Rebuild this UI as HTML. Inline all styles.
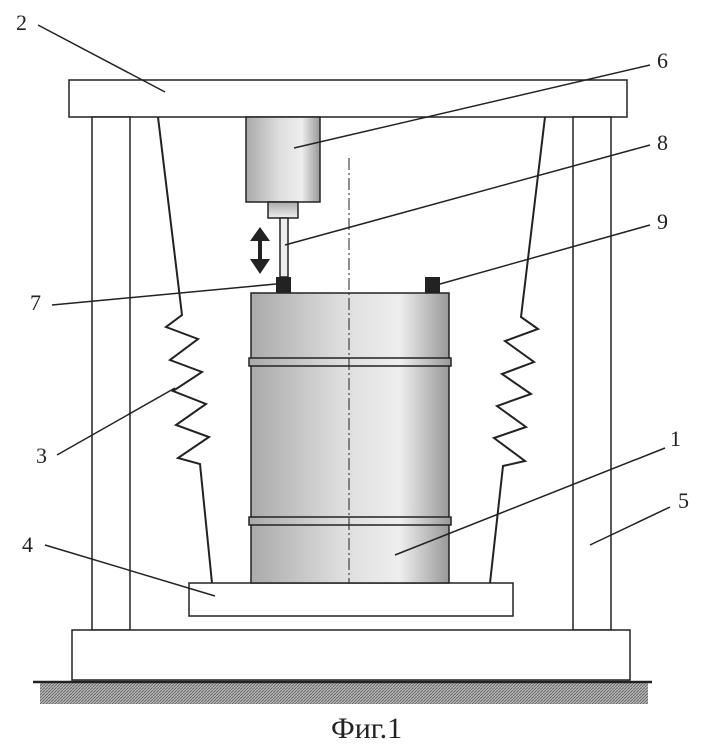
<!DOCTYPE html>
<html><head><meta charset="utf-8"><style>body{margin:0;background:#fff}</style></head><body>
<svg width="703" height="748" viewBox="0 0 703 748" xmlns="http://www.w3.org/2000/svg" font-family="Liberation Serif, serif">
<defs>
<linearGradient id="cg" x1="0" x2="1"><stop offset="0" stop-color="#aaa"/><stop offset="0.45" stop-color="#ddd"/><stop offset="0.75" stop-color="#eee"/><stop offset="1" stop-color="#999"/></linearGradient>
<linearGradient id="vg" x1="0" y1="0" x2="0" y2="1"><stop offset="0" stop-color="#aaa"/><stop offset="1" stop-color="#eee"/></linearGradient>
<pattern id="h" width="3" height="3" patternUnits="userSpaceOnUse"><rect width="3" height="3" fill="#bbb"/><path d="M0 3L3 0" stroke="#666" stroke-width="1"/></pattern>
</defs>
<g stroke="#222" stroke-width="1.5" fill="#fff">
<rect x="69" y="80" width="558" height="37"/>
<rect x="92" y="117" width="38" height="513"/>
<rect x="573" y="117" width="38" height="513"/>
<rect x="72" y="630" width="558" height="50"/>
<rect x="189" y="583" width="324" height="33"/>
<rect x="251" y="293" width="198" height="290" fill="url(#cg)"/>
<rect x="249" y="358" width="202" height="8" fill="url(#cg)"/>
<rect x="249" y="517" width="202" height="8" fill="url(#cg)"/>
<rect x="246" y="117" width="74" height="85" fill="url(#cg)"/>
<rect x="268" y="202" width="30" height="16" fill="url(#vg)"/>
<rect x="280" y="218" width="8" height="59" fill="#eee"/>
</g>
<rect x="40" y="683" width="608" height="21" fill="url(#h)"/>
<line x1="33" y1="682" x2="652" y2="682" stroke="#222" stroke-width="2.5"/>
<rect x="276" y="277" width="15" height="16" fill="#222"/>
<rect x="425" y="277" width="15" height="16" fill="#222"/>
<path d="M260 227L250 241H270Z M260 274L250 259H270Z" fill="#222"/>
<rect x="258" y="240" width="4" height="20" fill="#222"/>
<line x1="349" y1="158" x2="349" y2="583" stroke="#222" stroke-width="1" stroke-dasharray="12,3,2,3"/>
<g fill="none" stroke="#222" stroke-width="2">
<polyline points="158,117 182,315 166,327 198,339 170,360 202,372 173,391 206,404 176,425 209,437 178,458 200,464 212,583"/>
<polyline points="545,117 521,317 538,329 505,341 534,362 502,374 531,394 497,406 526,427 494,438 525,461 503,466 490,583"/>
</g>
<g stroke="#222" stroke-width="1.5">
<line x1="38" y1="25" x2="165" y2="92"/>
<line x1="650" y1="65" x2="294" y2="148"/>
<line x1="650" y1="145" x2="285" y2="245"/>
<line x1="650" y1="225" x2="440" y2="284"/>
<line x1="52" y1="305" x2="276" y2="284"/>
<line x1="57" y1="455" x2="175" y2="388"/>
<line x1="665" y1="448" x2="395" y2="555"/>
<line x1="45" y1="545" x2="215" y2="596"/>
<line x1="670" y1="507" x2="590" y2="545"/>
</g>
<g font-size="22" fill="#222">
<text x="16" y="30">2</text><text x="657" y="68">6</text><text x="657" y="150">8</text>
<text x="657" y="229">9</text><text x="30" y="310">7</text><text x="36" y="463">3</text>
<text x="670" y="446">1</text><text x="22" y="552">4</text><text x="678" y="508">5</text>
<text x="331" y="738" font-size="30">Фиг.1</text>
</g>
</svg>
</body></html>
